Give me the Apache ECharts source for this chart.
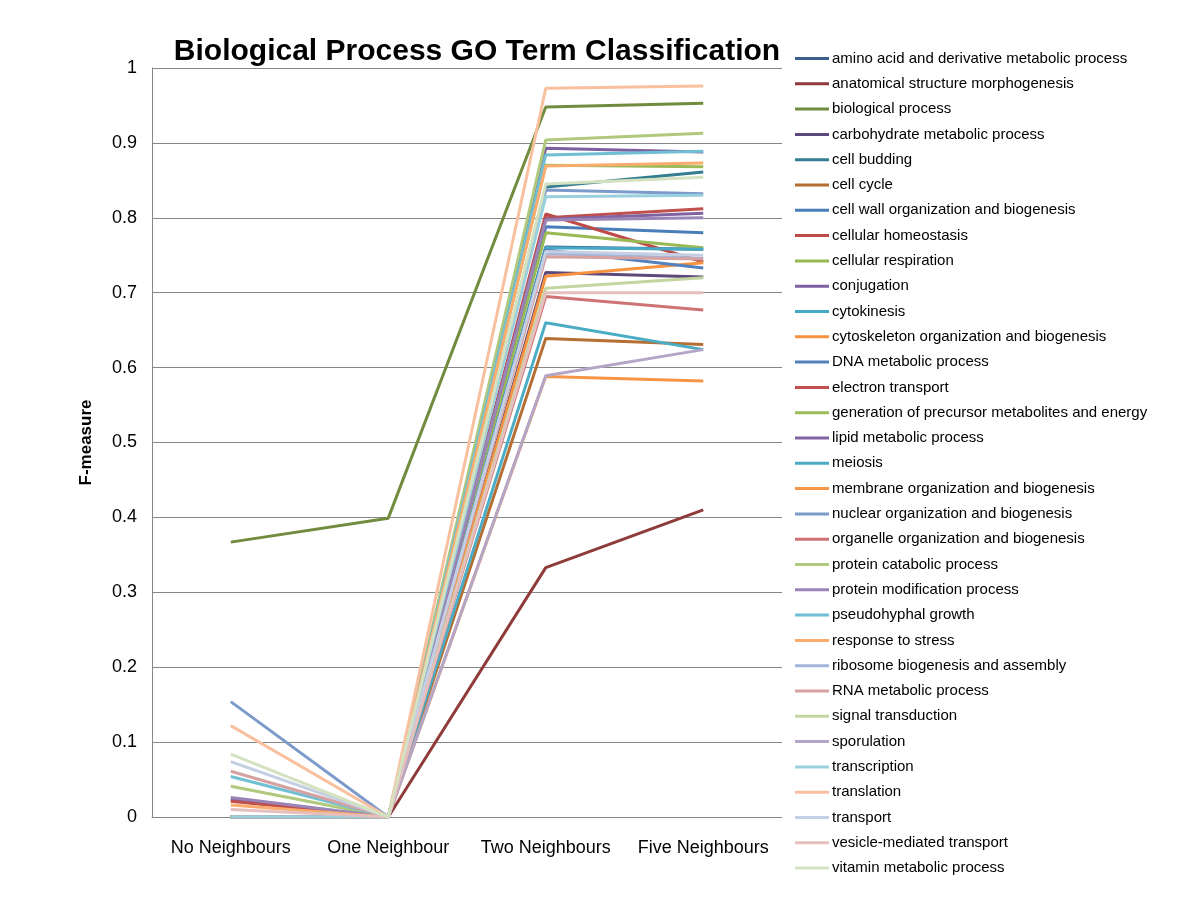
<!DOCTYPE html>
<html>
<head>
<meta charset="utf-8">
<script src="https://cdn.jsdelivr.net/npm/echarts@6/dist/echarts.min.js"></script>
<style>html,body{margin:0;padding:0;background:#fff}#c{width:1200px;height:900px}</style>
</head>
<body>
<div id="c"></div>
<script>
const categories = ['No Neighbours', 'One Neighbour', 'Two Neighbours', 'Five Neighbours'];
const seriesNames = [
  'amino acid and derivative metabolic process',
  'anatomical structure morphogenesis',
  'biological process',
  'carbohydrate metabolic process',
  'cell budding',
  'cell cycle',
  'cell wall organization and biogenesis',
  'cellular homeostasis',
  'cellular respiration',
  'conjugation',
  'cytokinesis',
  'cytoskeleton organization and biogenesis',
  'DNA metabolic process',
  'electron transport',
  'generation of precursor metabolites and energy',
  'lipid metabolic process',
  'meiosis',
  'membrane organization and biogenesis',
  'nuclear organization and biogenesis',
  'organelle organization and biogenesis',
  'protein catabolic process',
  'protein modification process',
  'pseudohyphal growth',
  'response to stress',
  'ribosome biogenesis and assembly',
  'RNA metabolic process',
  'signal transduction',
  'sporulation',
  'transcription',
  'translation',
  'transport',
  'vesicle-mediated transport',
  'vitamin metabolic process'
];
const seriesValues = [
  [0.000, 0, 0.761, 0.758],
  [0.000, 0, 0.333, 0.410],
  [0.367, 0.399, 0.948, 0.953],
  [0.000, 0, 0.727, 0.721],
  [0.000, 0, 0.841, 0.861],
  [0.000, 0, 0.639, 0.631],
  [0.000, 0, 0.788, 0.780],
  [0.000, 0, 0.805, 0.741],
  [0.000, 0, 0.780, 0.760],
  [0.023, 0, 0.893, 0.888],
  [0.000, 0, 0.760, 0.758],
  [0.000, 0, 0.722, 0.740],
  [0.000, 0, 0.757, 0.733],
  [0.021, 0, 0.800, 0.812],
  [0.000, 0, 0.870, 0.868],
  [0.000, 0, 0.798, 0.806],
  [0.000, 0, 0.660, 0.624],
  [0.000, 0, 0.588, 0.582],
  [0.154, 0, 0.837, 0.832],
  [0.000, 0, 0.695, 0.677],
  [0.041, 0, 0.904, 0.913],
  [0.026, 0, 0.797, 0.800],
  [0.054, 0, 0.884, 0.889],
  [0.016, 0, 0.869, 0.873],
  [0.000, 0, 0.752, 0.746],
  [0.061, 0, 0.748, 0.745],
  [0.000, 0, 0.706, 0.720],
  [0.000, 0, 0.589, 0.624],
  [0.000, 0, 0.828, 0.830],
  [0.122, 0, 0.973, 0.976],
  [0.074, 0, 0.755, 0.750],
  [0.010, 0, 0.700, 0.700],
  [0.084, 0, 0.845, 0.854]
];
const colors = [
  '#3A5F8B','#8E3B39','#718C3F','#5E4A7A','#357D91','#B56F33',
  '#4A7EBB','#BE4B48','#98B954','#7D60A0','#46AAC5','#F69240',
  '#5281BC','#C0504D','#9BBB59','#8064A2','#4BACC6','#F79646',
  '#7C9BCB','#CD7472','#B0C97D','#9A85B6','#71BFD3','#F9AC6E',
  '#A3B5D8','#D6A2A1','#C3D69F','#B3A6C6','#9ACFDD','#F8C09E',
  '#C5CFE3','#E4BFBE','#D4E2C1'
];
const yTicks = {min: 0, max: 1, interval: 0.1};

const chart = echarts.init(document.getElementById('c'), null, {renderer: 'canvas'});
chart.setOption({
  animation: false,
  color: colors,
  title: {
    text: 'Biological Process GO Term Classification',
    left: 472, top: 32, textAlign: 'center',
    textStyle: {fontFamily: 'Liberation Sans', fontWeight: 'bold', fontSize: 30, color: '#000'}
  },
  grid: {left: 152, top: 68, width: 630, height: 749, containLabel: false},
  legend: {
    orient: 'vertical', left: 790, top: 46,
    icon: 'rect', itemWidth: 34, itemHeight: 3, itemGap: 10.3,
    textStyle: {fontFamily: 'Liberation Sans', fontSize: 15, color: '#000', padding: [0,0,0,-2]},
    data: seriesNames
  },
  xAxis: {
    type: 'category', data: categories, boundaryGap: true,
    axisLine: {lineStyle: {color: '#868686', width: 1}},
    axisTick: {show: false},
    axisLabel: {interval: 0, fontFamily: 'Liberation Sans', fontSize: 18, color: '#000', margin: 22}
  },
  yAxis: {
    type: 'value', min: yTicks.min, max: yTicks.max, interval: yTicks.interval,
    name: 'F-measure', nameLocation: 'middle', nameGap: 57, nameRotate: 90,
    nameTextStyle: {fontFamily: 'Liberation Sans', fontWeight: 'bold', fontSize: 17, color: '#000'},
    axisLine: {show: true, lineStyle: {color: '#868686'}},
    axisTick: {show: false},
    splitLine: {lineStyle: {color: '#868686', width: 1}},
    axisLabel: {fontFamily: 'Liberation Sans', fontSize: 18, color: '#000', margin: 15,
      formatter: v => (Math.round(v * 10) / 10).toString()}
  },
  series: seriesNames.map((n, i) => ({
    name: n, type: 'line', data: seriesValues[i],
    symbol: 'none', lineStyle: {width: 3, color: colors[i]},
    itemStyle: {color: colors[i]}
  }))
});
</script>
</body>
</html>
